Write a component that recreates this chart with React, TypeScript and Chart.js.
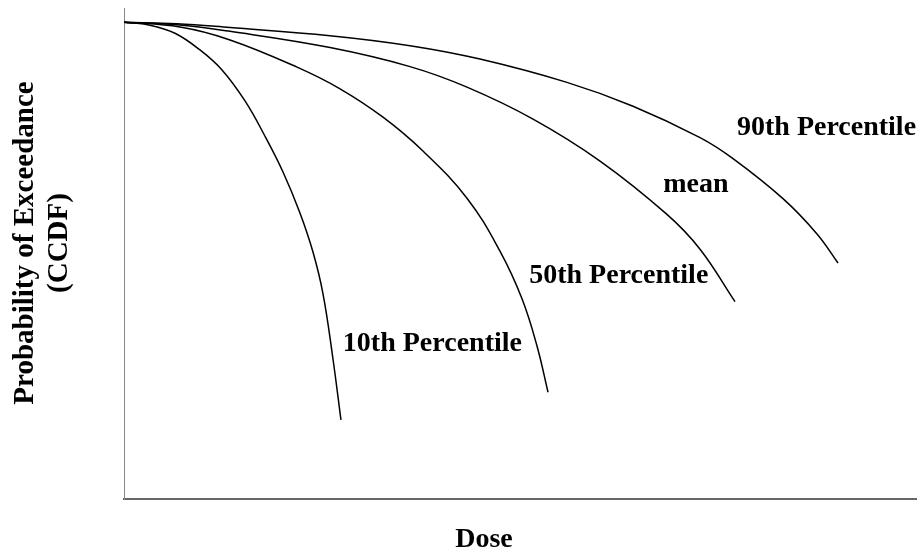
import React, { useEffect, useRef } from "react";
import { Chart, registerables } from "chart.js";

Chart.register(...registerables);

// Dose axis in arbitrary units (0..100), probability of exceedance (0..1)
const p10Dose = [0, 3.28, 6.43, 9.58, 12.36, 15.26, 17.78, 20.05, 22.19, 23.83, 25.1, 26.3, 27.36];
const p10Prob = [1.0, 0.994, 0.977, 0.942, 0.9, 0.835, 0.761, 0.686, 0.6, 0.518, 0.43, 0.3, 0.166];

const p50Dose = [0, 7.06, 13.37, 21.82, 27.19, 32.66, 37.7, 43.25, 47.41, 50.19, 52.08, 53.47];
const p50Prob = [1.0, 0.99, 0.963, 0.906, 0.861, 0.801, 0.73, 0.631, 0.52, 0.42, 0.321, 0.224];

const meanDose = [0, 6.68, 13.37, 25.98, 36.07, 43.25, 51.58, 60.03, 68.47, 72.64, 77.05];
const meanProb = [1.0, 0.995, 0.981, 0.947, 0.907, 0.864, 0.797, 0.709, 0.597, 0.524, 0.414];

const p90Dose = [0, 6.68, 13.37, 25.98, 36.07, 44.89, 55.86, 64.19, 72.64, 76.8, 83.1, 87.39, 90.04];
const p90Prob = [1.0, 0.997, 0.989, 0.972, 0.951, 0.923, 0.874, 0.824, 0.758, 0.714, 0.63, 0.556, 0.495];

const curveLabels = ["10th Percentile", "50th Percentile", "mean", "90th Percentile"];
const curveLabelDose = [27.6, 51.1, 68.0, 77.3];
const curveLabelProb = [0.31, 0.453, 0.644, 0.764];

const xTitle = "Dose";
const yTitle = ["Probability of Exceedance", "(CCDF)"];

const FONT = 'bold 28px "Liberation Serif", "Times New Roman", serif';
const YFONT = 'bold 29px "Liberation Serif", "Times New Roman", serif';

const toPoints = (xs: number[], ys: number[]) => xs.map((x, i) => ({ x, y: ys[i] }));

const textPlugin = {
  id: "curveText",
  afterDatasetsDraw(chart: any) {
    const { ctx, scales, chartArea } = chart;
    ctx.save();
    ctx.fillStyle = "#000";
    ctx.font = FONT;
    ctx.textAlign = "left";
    ctx.textBaseline = "alphabetic";
    curveLabels.forEach((t, i) => {
      const x = scales.x.getPixelForValue(curveLabelDose[i]);
      const y = scales.y.getPixelForValue(curveLabelProb[i]);
      ctx.fillText(t, x, y);
    });
    // x axis title
    ctx.textAlign = "center";
    ctx.fillText(xTitle, chartArea.left + 360, chartArea.bottom + 48);
    // y axis title (rotated)
    ctx.font = YFONT;
    ctx.translate(chartArea.left - 91, chartArea.top + 235);
    ctx.rotate(-Math.PI / 2);
    yTitle.forEach((t, i) => {
      ctx.fillText(t, 0, i * 34);
    });
    ctx.restore();
  },
};

export default function App() {
  const ref = useRef<HTMLCanvasElement | null>(null);
  useEffect(() => {
    document.body.style.margin = "0";
    if (!ref.current) return;
    const mk = (label: string, xs: number[], ys: number[]) => ({
      label,
      data: toPoints(xs, ys),
      borderColor: "#000",
      borderWidth: 1.5,
      pointRadius: 0,
      fill: false,
      tension: 0.4,
      showLine: true,
    });
    const chart = new Chart(ref.current, {
      type: "line",
      data: {
        datasets: [
          mk("10th Percentile", p10Dose, p10Prob),
          mk("50th Percentile", p50Dose, p50Prob),
          mk("mean", meanDose, meanProb),
          mk("90th Percentile", p90Dose, p90Prob),
        ],
      },
      options: {
        animation: false,
        responsive: true,
        maintainAspectRatio: false,
        layout: { padding: { left: 124, top: 8, right: 0, bottom: 54 } },
        plugins: { legend: { display: false }, tooltip: { enabled: false } },
        scales: {
          x: {
            type: "linear",
            min: 0,
            max: 100,
            ticks: { display: false },
            grid: { display: false, drawTicks: false, tickLength: 0 },
            border: { display: true, color: "#666", width: 2 },
          },
          y: {
            type: "linear",
            min: 0,
            max: 1.03,
            ticks: { display: false },
            grid: { display: false, drawTicks: false, tickLength: 0 },
            border: { display: true, color: "#888", width: 1 },
          },
        },
      },
      plugins: [textPlugin],
    });
    return () => chart.destroy();
  }, []);
  return (
    <div style={{ width: 917, height: 553, position: "relative" }}>
      <canvas ref={ref} />
    </div>
  );
}
